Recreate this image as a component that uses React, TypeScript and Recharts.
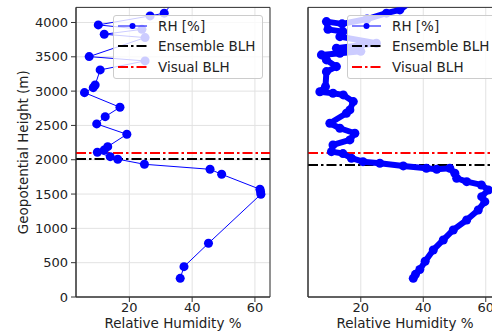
import React from 'react';
import {
  ScatterChart,
  Scatter,
  XAxis,
  YAxis,
  ZAxis,
  CartesianGrid,
  ReferenceLine,
  ReferenceArea,
  Legend,
} from 'recharts';

const xTicks = [20, 40, 60];
const yTicks = [0, 500, 1000, 1500, 2000, 2500, 3000, 3500, 4000];
const legendLabels = ['RH [%]', 'Ensemble BLH', 'Visual BLH'];
const xLabel = 'Relative Humidity %';
const yLabel = 'Geopotential Height (m)';

// left panel (sparse sounding)
const sparseRH = [36.2, 37.4, 45.2, 61.9, 61.8, 61.6, 49.4, 45.7, 24.8, 16.3, 13.9, 9.8, 12.0, 13.1, 19.2, 9.6, 12.3, 17.0, 5.7, 8.5, 9.1, 10.7, 25.0, 7.2, 25.0, 12.0, 24.0, 10.1, 26.6, 31.1, 34.0];
const sparseHeight = [272, 442, 783, 1497, 1535, 1570, 1788, 1861, 1934, 2008, 2045, 2109, 2143, 2191, 2371, 2522, 2628, 2765, 2978, 3051, 3090, 3309, 3440, 3503, 3780, 3829, 3900, 3965, 4096, 4136, 4300];
const sparseEnsembleBLH = 2010;
const sparseVisualBLH = 2100;

// right panel (dense sounding)
const denseRH = [36.8, 37.5, 38.9, 40.6, 43.2, 46.4, 49.6, 53.9, 57.6, 59.7, 58.7, 60.8, 58.6, 53.9, 50.7, 50.1, 48.5, 44.3, 41.0, 33.6, 26.1, 20.7, 17.0, 14.3, 10.6, 11.1, 16.5, 18.1, 13.3, 10.1, 15.4, 16.5, 17.6, 14.4, 11.1, 6.9, 8.7, 9.0, 12.2, 9.0, 7.4, 13.3, 20.0, 12.2, 25.0, 13.3, 14.3, 9.5, 9.0, 14.0, 22.0, 28.2, 32.5, 36.0];
const denseHeight = [272, 330, 400, 520, 685, 831, 977, 1122, 1268, 1389, 1462, 1560, 1633, 1681, 1730, 1803, 1876, 1861, 1876, 1910, 1949, 1972, 2022, 2090, 2118, 2216, 2289, 2386, 2459, 2532, 2678, 2726, 2847, 2945, 2969, 2990, 3066, 3284, 3357, 3455, 3528, 3552, 3580, 3625, 3698, 3794, 3867, 3900, 4013, 3980, 4050, 4136, 4184, 4300];
const denseEnsembleBLH = 1925;
const denseVisualBLH = 2100;

const sparseData = sparseRH.map((rh, i) => ({ rh, h: sparseHeight[i] }));
const denseData = denseRH.map((rh, i) => ({ rh, h: denseHeight[i] }));

const FONT = 'DejaVu Sans';
const BLUE = '#0000ff';
const AXIS = '#333333';
const TEXT = '#222222';
const DASH = '10 3 2.5 3';

const LegendBox = () => (
  <div
    style={{
      width: 150,
      height: 64,
      boxSizing: 'border-box',
      background: 'rgba(255,255,255,0.8)',
      border: '1px solid #cccccc',
      borderRadius: 3,
      fontFamily: FONT,
      fontSize: 13.5,
      color: TEXT,
    }}
  >
    {legendLabels.map((label, i) => (
      <div key={label} style={{ display: 'flex', alignItems: 'center', height: 20.5 }}>
        <svg width={29} height={10} style={{ marginLeft: 4, display: 'block' }}>
          {i === 0 && (
            <g>
              <line x1={0} y1={5} x2={29} y2={5} stroke={BLUE} strokeWidth={1} />
              <circle cx={14.5} cy={5} r={3} fill={BLUE} />
            </g>
          )}
          {i === 1 && <line x1={0} y1={5} x2={29} y2={5} stroke="#000" strokeWidth={2} strokeDasharray={DASH} />}
          {i === 2 && <line x1={0} y1={5} x2={29} y2={5} stroke="#ff0000" strokeWidth={2} strokeDasharray={DASH} />}
        </svg>
        <span style={{ marginLeft: 11, lineHeight: '14px', whiteSpace: 'nowrap' }}>{label}</span>
      </div>
    ))}
  </div>
);

type PanelProps = {
  data: { rh: number; h: number }[];
  domainX: [number, number];
  ensemble: number;
  visual: number;
  showYLabels: boolean;
  dense: boolean;
  legendLeft: number;
};

const Panel = ({ data, domainX, ensemble, visual, showYLabels, dense, legendLeft }: PanelProps) => (
  <ScatterChart width={280} height={332} margin={{ top: 7.4, right: 10, bottom: 0, left: 0 }}>
    <CartesianGrid stroke="#e2e2e2" strokeWidth={1} />
    <XAxis
      type="number"
      dataKey="rh"
      domain={domainX}
      ticks={xTicks}
      allowDataOverflow
      height={35}
      tickSize={5}
      tickMargin={1}
      axisLine={{ stroke: AXIS }}
      tickLine={{ stroke: AXIS }}
      tick={{ fill: TEXT, fontSize: 13, fontFamily: FONT }}
      label={{ value: xLabel, position: 'insideBottom', offset: 4, fontSize: 13.5, fill: TEXT, fontFamily: FONT }}
    />
    <YAxis
      type="number"
      dataKey="h"
      domain={[0, 4220]}
      ticks={yTicks}
      allowDataOverflow
      width={76}
      tickSize={5}
      tickMargin={3}
      axisLine={{ stroke: AXIS }}
      tickLine={{ stroke: AXIS }}
      tick={showYLabels ? { fill: TEXT, fontSize: 13, fontFamily: FONT } : false}
      label={
        showYLabels
          ? {
              value: yLabel,
              angle: -90,
              position: 'insideLeft',
              offset: 23,
              fontSize: 13.5,
              fill: TEXT,
              fontFamily: FONT,
              style: { textAnchor: 'middle' },
            }
          : undefined
      }
    />
    <ZAxis range={dense ? [40, 40] : [24, 24]} />
    <Scatter
      data={data}
      fill={BLUE}
      line={{ stroke: BLUE, strokeWidth: dense ? 6 : 1, strokeLinejoin: 'round', strokeLinecap: 'round' }}
      shape="circle"
      isAnimationActive={false}
    />
    <ReferenceLine y={ensemble} stroke="#000" strokeWidth={2} strokeDasharray={DASH} />
    <ReferenceLine y={visual} stroke="#ff0000" strokeWidth={2} strokeDasharray={DASH} />
    <ReferenceArea x1={domainX[0]} x2={domainX[1]} y1={0} y2={4220} fill="none" stroke={AXIS} strokeWidth={1} />
    <Legend
      layout="horizontal"
      verticalAlign="middle"
      align="center"
      content={() => <LegendBox />}
      wrapperStyle={{ left: legendLeft, top: 14.5, width: 150, height: 64, margin: 0 }}
    />
  </ScatterChart>
);

export default function App() {
  return (
    <div
      style={{
        position: 'absolute',
        left: 0,
        top: 0,
        width: 492,
        height: 332,
        overflow: 'hidden',
        background: '#ffffff',
        fontFamily: FONT,
      }}
    >
      <div style={{ position: 'absolute', left: 0, top: 0 }}>
        <Panel
          data={sparseData}
          domainX={[3, 64.8]}
          ensemble={sparseEnsembleBLH}
          visual={sparseVisualBLH}
          showYLabels
          dense={false}
          legendLeft={113}
        />
      </div>
      <div style={{ position: 'absolute', left: 232, top: 0 }}>
        <Panel
          data={denseData}
          domainX={[3.1, 65.2]}
          ensemble={denseEnsembleBLH}
          visual={denseVisualBLH}
          showYLabels={false}
          dense
          legendLeft={115}
        />
      </div>
    </div>
  );
}
